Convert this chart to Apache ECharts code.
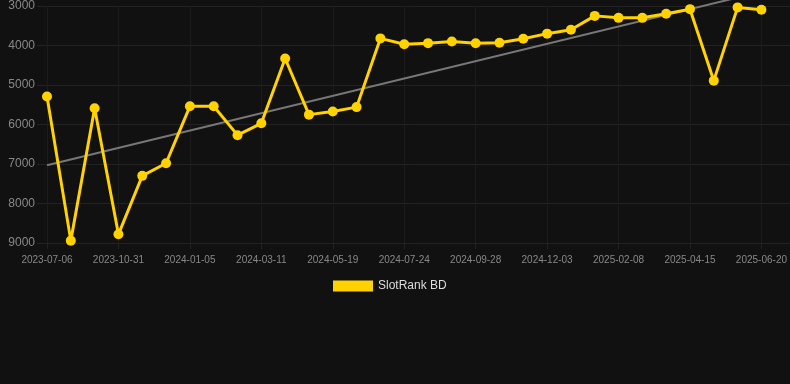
<!DOCTYPE html>
<html>
<head>
    <meta charset="UTF-8">
    <title>SlotRank BD</title>
    <style type="text/css">
        * {
            margin: 0;
            padding: 0;
        }

        html,
        body {
            width: 100%;
            height: 100%;
            background: #111111;
        }

        .container {
            width: 790px;
            height: 384px;
        }
    </style>
</head>
<body>
    <div class="container" id="container"></div>
    <script src="https://cdn.jsdelivr.net/npm/echarts@6/dist/echarts.min.js"></script>
    <script>
        const dates = [
            '2023-07-06', '2023-08-15', '2023-09-20', '2023-10-31', '2023-11-22', '2023-12-14',
            '2024-01-05', '2024-01-27', '2024-02-18', '2024-03-11', '2024-04-03', '2024-04-26',
            '2024-05-19', '2024-06-10', '2024-07-02', '2024-07-24', '2024-08-15', '2024-09-06',
            '2024-09-28', '2024-10-20', '2024-11-11', '2024-12-03', '2024-12-25', '2025-01-17',
            '2025-02-08', '2025-03-02', '2025-03-24', '2025-04-15', '2025-05-07', '2025-05-29',
            '2025-06-20'
        ];
        const ranks = [
            5290, 8940, 5590, 8780, 7300, 6980,
            5540, 5540, 6270, 5970, 4330, 5750,
            5670, 5560, 3820, 3970, 3940, 3900,
            3945, 3930, 3830, 3700, 3600, 3250,
            3300, 3300, 3195, 3080, 4890, 3035,
            3095
        ];
        // trend line end points (first and last category)
        const trendStart = 7030;
        const trendEnd = 2640;
        const trend = dates.map((d, i) => i === 0 ? trendStart : (i === dates.length - 1 ? trendEnd : null));

        const yRange = { min: 3000, max: 9000, interval: 1000 };

        const chart = echarts.init(document.querySelector('#container'));
        chart.setOption({
            backgroundColor: '#111111',
            animation: false,
            grid: [
                // plot area for the series
                { left: 47, right: 28, top: 6, bottom: 141 },
                // wider area only for the horizontal grid lines and y labels
                { left: 37, right: 0, top: 6, bottom: 141 }
            ],
            legend: {
                top: 275,
                left: 328,
                icon: 'rect',
                itemWidth: 40,
                itemHeight: 11,
                itemGap: 6,
                textStyle: {
                    color: '#dddddd',
                    fontSize: 12
                },
                data: ['SlotRank BD']
            },
            xAxis: [
                {
                    type: 'category',
                    gridIndex: 0,
                    boundaryGap: false,
                    data: dates,
                    axisLine: { show: false },
                    axisTick: {
                        show: true,
                        interval: 2,
                        length: 6,
                        lineStyle: { color: '#222222' }
                    },
                    axisLabel: {
                        interval: 2,
                        color: '#888888',
                        fontSize: 10,
                        margin: 12
                    },
                    splitLine: {
                        show: true,
                        interval: 2,
                        lineStyle: { color: '#1c1c1c' }
                    }
                },
                {
                    type: 'value',
                    gridIndex: 1,
                    show: false
                }
            ],
            yAxis: [
                {
                    type: 'value',
                    gridIndex: 0,
                    inverse: true,
                    min: yRange.min,
                    max: yRange.max,
                    interval: yRange.interval,
                    show: false,
                    splitLine: { show: false }
                },
                {
                    type: 'value',
                    gridIndex: 1,
                    inverse: true,
                    min: yRange.min,
                    max: yRange.max,
                    interval: yRange.interval,
                    axisLine: { show: false },
                    axisTick: { show: false },
                    axisLabel: {
                        color: '#888888',
                        fontSize: 12,
                        margin: 2,
                        formatter: (v) => String(v)
                    },
                    splitLine: {
                        lineStyle: { color: '#222222' }
                    }
                }
            ],
            series: [
                {
                    name: 'trend',
                    type: 'line',
                    xAxisIndex: 0,
                    yAxisIndex: 0,
                    data: trend,
                    connectNulls: true,
                    clip: false,
                    symbol: 'none',
                    silent: true,
                    lineStyle: {
                        color: '#777777',
                        width: 2
                    },
                    z: 1
                },
                {
                    name: 'SlotRank BD',
                    type: 'line',
                    xAxisIndex: 0,
                    yAxisIndex: 0,
                    data: ranks,
                    symbol: 'circle',
                    symbolSize: 10,
                    itemStyle: { color: '#ffd200' },
                    lineStyle: {
                        color: '#ffd200',
                        width: 3
                    },
                    z: 2
                }
            ]
        });
    </script>
</body>
</html>
